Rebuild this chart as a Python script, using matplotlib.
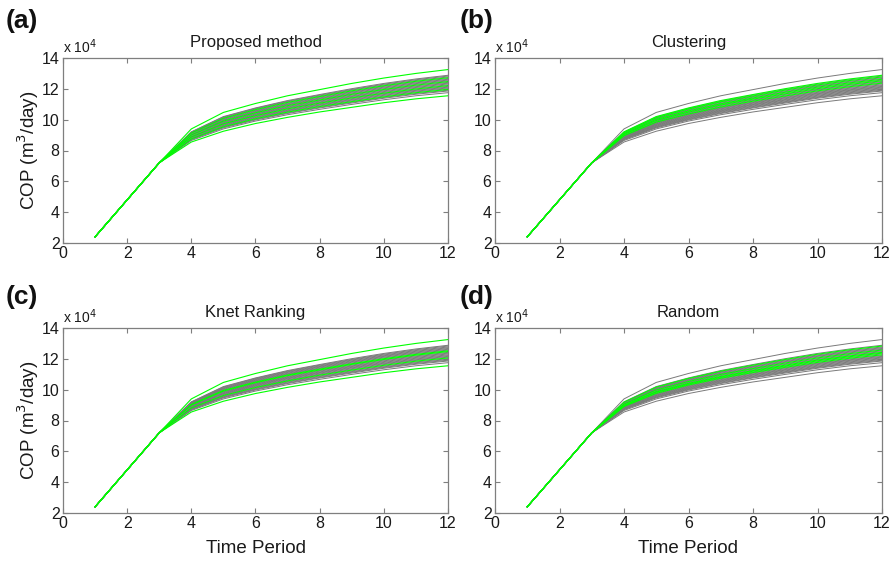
import matplotlib
matplotlib.use("Agg")
import matplotlib.pyplot as plt

plt.rcParams['font.family'] = ['Liberation Sans', 'DejaVu Sans']

# Time periods
time_period = [1, 2, 3, 4, 5, 6, 7, 8, 9, 10, 11, 12]

# Common early production (x 10^4 m3/day) for t = 1..3
early = [2.4, 4.8, 7.2]

# Realizations, values for t = 4..12 (x 10^4 m3/day), ordered from lowest to highest
r00 = [8.55, 9.25, 9.75, 10.15, 10.50, 10.80, 11.10, 11.35, 11.55]
r01 = [8.65, 9.40, 9.91, 10.32, 10.67, 10.99, 11.29, 11.55, 11.75]
r02 = [8.70, 9.47, 9.98, 10.40, 10.76, 11.08, 11.39, 11.65, 11.86]
r03 = [8.73, 9.51, 10.02, 10.44, 10.80, 11.13, 11.44, 11.70, 11.91]
r04 = [8.75, 9.54, 10.06, 10.49, 10.85, 11.17, 11.48, 11.75, 11.96]
r05 = [8.78, 9.58, 10.10, 10.53, 10.89, 11.22, 11.53, 11.80, 12.01]
r06 = [8.81, 9.62, 10.14, 10.57, 10.94, 11.27, 11.58, 11.85, 12.06]
r07 = [8.83, 9.65, 10.18, 10.61, 10.98, 11.31, 11.63, 11.90, 12.11]
r08 = [8.86, 9.69, 10.22, 10.65, 11.02, 11.36, 11.68, 11.94, 12.16]
r09 = [8.88, 9.73, 10.26, 10.70, 11.07, 11.41, 11.72, 11.99, 12.21]
r10 = [8.91, 9.76, 10.30, 10.74, 11.11, 11.45, 11.77, 12.04, 12.26]
r11 = [8.93, 9.80, 10.34, 10.78, 11.15, 11.50, 11.82, 12.09, 12.32]
r12 = [8.96, 9.84, 10.37, 10.82, 11.20, 11.54, 11.87, 12.14, 12.37]
r13 = [8.98, 9.87, 10.41, 10.86, 11.24, 11.59, 11.92, 12.19, 12.42]
r14 = [9.01, 9.91, 10.45, 10.91, 11.28, 11.64, 11.96, 12.24, 12.47]
r15 = [9.04, 9.95, 10.49, 10.95, 11.33, 11.68, 12.01, 12.29, 12.52]
r16 = [9.06, 9.98, 10.53, 10.99, 11.37, 11.73, 12.06, 12.34, 12.57]
r17 = [9.09, 10.02, 10.57, 11.03, 11.41, 11.78, 12.11, 12.39, 12.62]
r18 = [9.11, 10.06, 10.61, 11.07, 11.46, 11.82, 12.16, 12.44, 12.67]
r19 = [9.14, 10.09, 10.65, 11.12, 11.50, 11.87, 12.20, 12.49, 12.72]
r20 = [9.16, 10.13, 10.69, 11.16, 11.54, 11.92, 12.25, 12.54, 12.77]
r21 = [9.19, 10.17, 10.73, 11.20, 11.59, 11.96, 12.30, 12.59, 12.83]
r22 = [9.21, 10.20, 10.76, 11.24, 11.63, 12.01, 12.35, 12.64, 12.88]
r23 = [9.40, 10.47, 11.05, 11.55, 11.95, 12.35, 12.70, 13.00, 13.25]

realizations = [r00, r01, r02, r03, r04, r05, r06, r07, r08, r09, r10, r11,
                r12, r13, r14, r15, r16, r17, r18, r19, r20, r21, r22, r23]

# Panels: titles and indices of selected (green) realizations
panel_letters = ['(a)', '(b)', '(c)', '(d)']
panel_titles = ['Proposed method', 'Clustering', 'Knet Ranking', 'Random']
selected_a = [0, 4, 9, 14, 19, 23]
selected_b = [12, 15, 17, 20, 22]
selected_c = [0, 6, 14, 15, 23]
selected_d = [10, 12, 13, 16, 21]
selections = [selected_a, selected_b, selected_c, selected_d]

x_ticks = [0, 2, 4, 6, 8, 10, 12]
y_ticks = [2, 4, 6, 8, 10, 12, 14]

W, H = 894, 563
fig = plt.figure(figsize=(W / 100, H / 100), dpi=100)

# axes boxes in pixels: left, top, right, bottom
boxes = [(63, 58, 448, 243), (495, 58, 882, 243),
         (63, 328, 448, 513), (495, 328, 882, 513)]
letter_pos = [(6, 9), (460, 9), (6, 285), (460, 285)]

grey = '#7a7a7a'
green = '#00ff00'
spine_c = '#7f7f7f'
txt_c = '#1a1a1a'

for i in range(4):
    l, t, r, b = boxes[i]
    ax = fig.add_axes([l / W, 1 - b / H, (r - l) / W, (b - t) / H])
    for j, real in enumerate(realizations):
        if j not in selections[i]:
            ax.plot(time_period, early + real, color=grey, lw=0.7, zorder=2)
    for j in selections[i]:
        ax.plot(time_period, early + realizations[j], color=green, lw=0.8, zorder=3)
    ax.set_xlim(0, 12)
    ax.set_ylim(2, 14)
    ax.set_xticks(x_ticks)
    ax.set_yticks(y_ticks)
    ax.tick_params(direction='in', length=3.5, width=0.8, color=spine_c,
                   top=True, right=True, labelsize=11.5, labelcolor=txt_c, pad=2.5)
    for s in ax.spines.values():
        s.set_color(spine_c)
        s.set_linewidth(0.9)
    ax.set_title(panel_titles[i], fontsize=12, pad=8, color=txt_c)
    ax.text(0.0, 1.012, 'x 10$^4$', transform=ax.transAxes, fontsize=10,
            ha='left', va='bottom', color=txt_c)
    if i in (0, 2):
        ax.set_ylabel('COP (m$^3$/day)', fontsize=13.5, labelpad=0.5, color=txt_c)
    if i in (2, 3):
        ax.set_xlabel('Time Period', fontsize=13.5, labelpad=6, color=txt_c)
    lx, ly = letter_pos[i]
    fig.text(lx / W, 1 - ly / H, panel_letters[i], fontsize=19, fontweight='bold',
             ha='left', va='top', color='#111111')

fig.savefig('out.png', dpi=100)
